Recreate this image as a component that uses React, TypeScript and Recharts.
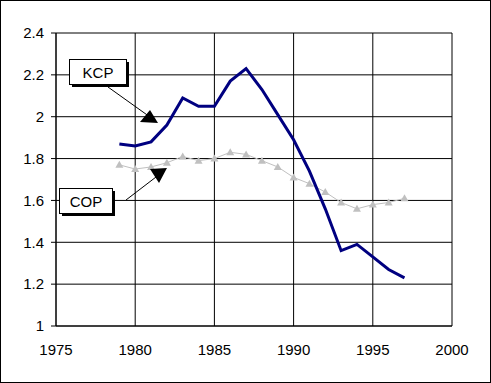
import { LineChart, Line, XAxis, YAxis, CartesianGrid } from 'recharts';

const years = [1979, 1980, 1981, 1982, 1983, 1984, 1985, 1986, 1987, 1988, 1989, 1990, 1991, 1992, 1993, 1994, 1995, 1996, 1997];
const kcp = [1.87, 1.86, 1.88, 1.96, 2.09, 2.05, 2.05, 2.17, 2.23, 2.13, 2.01, 1.89, 1.74, 1.56, 1.36, 1.39, 1.33, 1.27, 1.23];
const cop = [1.77, 1.75, 1.76, 1.78, 1.81, 1.79, 1.8, 1.83, 1.82, 1.79, 1.76, 1.71, 1.68, 1.64, 1.59, 1.56, 1.58, 1.59, 1.61];

const xTicks = [1975, 1980, 1985, 1990, 1995, 2000];
const minorTicks = Array.from({ length: 26 }, (_, i) => 1975 + i);
const yTicks = [1, 1.2, 1.4, 1.6, 1.8, 2, 2.2, 2.4];

const data = years.map((year, i) => ({ year, kcp: kcp[i], cop: cop[i] }));

const FONT = '"Liberation Sans", Arial, sans-serif';

const Triangle = (props: any) => {
  const { cx, cy } = props;
  if (cx == null || cy == null) return null;
  return <polygon points={`${cx - 4},${cy + 3} ${cx + 4},${cy + 3} ${cx},${cy - 4}`} fill="#c0c0c0" stroke="none" />;
};

const Callout = ({ x, y, w, h, text }: { x: number; y: number; w: number; h: number; text: string }) => (
  <g>
    <rect x={x + 3} y={y + 3} width={w} height={h} fill="#000" />
    <rect x={x + 0.5} y={y + 0.5} width={w} height={h} fill="#fff" stroke="#000" />
    <text x={x + w / 2 + 0.5} y={y + h / 2 + 6} textAnchor="middle" fontSize={15} fontFamily={FONT} fill="#000">
      {text}
    </text>
  </g>
);

export default function App() {
  return (
    <div
      style={{
        position: 'absolute',
        left: 0,
        top: 0,
        width: 491,
        height: 383,
        border: '1px solid #000',
        boxSizing: 'border-box',
        background: '#fff',
      }}
    >
      <div style={{ position: 'absolute', left: -1, top: -1 }}>
        <LineChart width={491} height={383} data={data} margin={{ top: 33, right: 39, bottom: 0, left: 0 }}>
          <CartesianGrid stroke="#000" strokeWidth={1} horizontalValues={yTicks} verticalValues={xTicks} />
          <XAxis
            dataKey="year"
            type="number"
            domain={[1975, 2000]}
            ticks={xTicks}
            height={57}
            tickSize={0}
            tickMargin={18}
            axisLine={{ stroke: '#000' }}
            tick={{ fill: '#000', fontSize: 15, fontFamily: FONT }}
            interval={0}
          />
          <XAxis
            xAxisId="minor"
            dataKey="year"
            type="number"
            domain={[1975, 2000]}
            ticks={minorTicks}
            mirror
            tick={false}
            tickSize={3}
            tickLine={{ stroke: '#000' }}
            axisLine={false}
            interval={0}
          />
          <YAxis
            type="number"
            domain={[1, 2.4]}
            ticks={yTicks}
            width={56}
            tickSize={5}
            tickMargin={7}
            axisLine={{ stroke: '#000' }}
            tickLine={{ stroke: '#000' }}
            tick={{ fill: '#000', fontSize: 15, fontFamily: FONT }}
            interval={0}
          />
          <Line
            dataKey="cop"
            stroke="#c0c0c0"
            strokeWidth={1}
            dot={<Triangle />}
            isAnimationActive={false}
          />
          <Line
            dataKey="kcp"
            stroke="#000080"
            strokeWidth={3}
            dot={false}
            isAnimationActive={false}
          />
        </LineChart>
      </div>
      <svg
        width={491}
        height={383}
        style={{ position: 'absolute', left: -1, top: -1, pointerEvents: 'none' }}
      >
        <line x1={108} y1={87} x2={150} y2={117} stroke="#000" strokeWidth={1} />
        <polygon points="140,122 150,110 158,123" fill="#000" />
        <Callout x={69} y={59} w={57} h={25} text="KCP" />
        <line x1={126} y1={200} x2={156} y2={177} stroke="#000" strokeWidth={1} />
        <polygon points="150,169 167,168 159,183" fill="#000" />
        <Callout x={59} y={188} w={53} h={25} text="COP" />
      </svg>
    </div>
  );
}
